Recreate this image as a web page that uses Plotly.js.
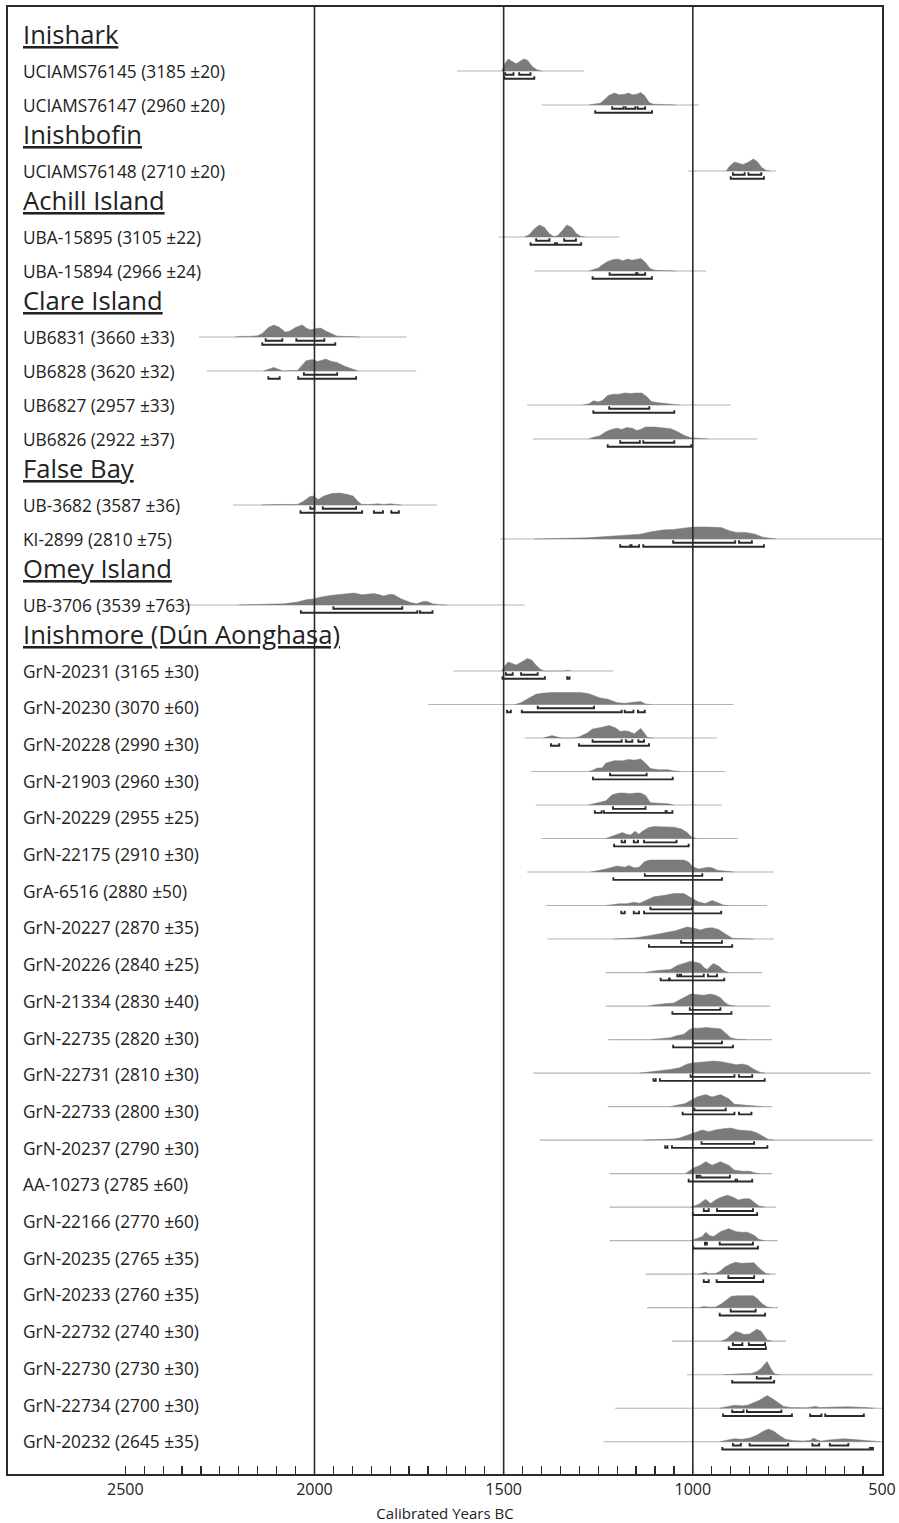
<!DOCTYPE html>
<html><head><meta charset="utf-8">
<script src="https://cdn.plot.ly/plotly-3.0.1.min.js"></script>
<style>html,body{margin:0;padding:0;background:#fff}#chart{width:899px;height:1523px}</style>
</head><body><div id="chart"></div>
<script>
// ---------------- DATA ----------------
const siteNames = ["Inishark", "Inishbofin", "Achill Island", "Clare Island", "False Bay", "Omey Island", "Inishmore (Dún Aonghasa)"];

const sampleLabels = [
  "UCIAMS76145 (3185 ±20)", "UCIAMS76147 (2960 ±20)",
  "UCIAMS76148 (2710 ±20)",
  "UBA-15895 (3105 ±22)", "UBA-15894 (2966 ±24)",
  "UB6831 (3660 ±33)", "UB6828 (3620 ±32)", "UB6827 (2957 ±33)", "UB6826 (2922 ±37)",
  "UB-3682 (3587 ±36)", "KI-2899 (2810 ±75)",
  "UB-3706 (3539 ±763)",
  "GrN-20231 (3165 ±30)", "GrN-20230 (3070 ±60)", "GrN-20228 (2990 ±30)", "GrN-21903 (2960 ±30)",
  "GrN-20229 (2955 ±25)", "GrN-22175 (2910 ±30)", "GrA-6516 (2880 ±50)", "GrN-20227 (2870 ±35)",
  "GrN-20226 (2840 ±25)", "GrN-21334 (2830 ±40)", "GrN-22735 (2820 ±30)", "GrN-22731 (2810 ±30)",
  "GrN-22733 (2800 ±30)", "GrN-20237 (2790 ±30)", "AA-10273 (2785 ±60)", "GrN-22166 (2770 ±60)",
  "GrN-20235 (2765 ±35)", "GrN-20233 (2760 ±35)", "GrN-22732 (2740 ±30)", "GrN-22730 (2730 ±30)",
  "GrN-22734 (2700 ±30)", "GrN-20232 (2645 ±35)"
];
const sampleSite = [0,0, 1, 2,2, 3,3,3,3, 4,4, 5,
  6,6,6,6,6,6,6,6,6,6,6,6,6,6,6,6,6,6,6,6,6,6];

// one entry per drawn distribution (top to bottom); site index of each
const distSite = [0,0, 1, 2,2, 3,3,3,3, 4,4, 5,
  6,6,6,6,6,6,6,6,6,6,6,6,6,6,6,6,6,6,6,6,6,6,6,6];

// span of the thin calibration line, years BC [from, to]
const distSpan = [
  [1623,1288],[1399,984],
  [1013,780],
  [1513,1194],[1419,965],
  [2305,1757],[2285,1731],[1438,900],[1423,829],
  [2215,1676],[1509,500],
  [2370,1445],
  [1633,1210],[1699,892],[1444,936],[1428,914],[1415,923],[1400,881],
  [1438,786],[1388,804],[1384,786],[1230,817],[1230,795],[1224,791],
  [1421,530],[1225,790],[1405,525],[1220,790],[1220,781],[1220,776],
  [1125,781],[1121,775],[1055,754],[1015,525],[1205,500],[1236,500]
];

// probability curves: [year BC, relative height]
const distDensity = [
  [[1505,0],[1497,6],[1488,10],[1478,8],[1467,6],[1457,8],[1447,10],[1437,9],[1425,4],[1412,1],[1400,0]],
  [[1275,0],[1260,1],[1245,1.5],[1235,4],[1222,8],[1207,10],[1195,8.5],[1180,9],[1170,10],[1160,8.5],[1148,9],[1138,10.5],[1128,8],[1115,2],[1105,0.7],[1070,0.3],[1045,0]],
  [[912,0],[903,4],[890,7.5],[878,6.5],[868,5.5],[855,7],[840,10],[830,8],[818,3],[806,0.5],[795,0]],
  [[1445,0],[1432,2],[1418,7],[1405,10],[1392,8],[1380,3],[1368,0.5],[1358,1],[1346,5],[1333,10],[1320,8],[1308,3],[1295,0.5],[1285,0]],
  [[1275,0],[1262,1.5],[1250,2.5],[1240,5],[1225,8],[1210,9.5],[1198,10],[1185,8.5],[1172,10],[1160,9],[1150,9.5],[1137,10.5],[1125,7],[1113,2],[1100,0.6],[1060,0.3],[1045,0]],
  [[2210,0],[2195,0.5],[2175,0.5],[2150,1],[2138,3],[2122,8],[2107,10],[2092,8],[2077,4],[2065,5],[2050,8],[2032,10],[2020,7],[2010,6],[1995,7],[1984,7.5],[1970,5],[1955,2.5],[1940,0.7],[1900,0.3],[1880,0]],
  [[2135,0],[2122,1.5],[2108,3],[2095,1.5],[2085,0],[2045,0.5],[2035,4],[2022,8.5],[2006,9.5],[1992,8],[1980,9],[1970,10],[1955,8],[1940,7],[1920,4],[1900,1.5],[1885,0]],
  [[1290,0],[1275,1],[1262,3.5],[1250,2.5],[1238,4],[1225,8],[1210,9],[1195,9],[1180,10],[1165,9.5],[1150,10],[1135,10],[1122,7],[1110,3],[1095,2],[1070,1.5],[1050,0.5],[1035,0]],
  [[1275,0],[1262,1.5],[1247,2.5],[1230,6],[1215,8],[1200,9],[1188,8],[1175,9.5],[1160,9],[1148,7],[1138,8],[1125,10],[1100,10],[1080,9.5],[1058,8.5],[1040,6],[1022,3],[1005,1],[990,0.5],[960,0]],
  [[2140,0],[2120,0.4],[2100,0.4],[2045,0.5],[2030,3],[2012,7],[2002,7.5],[1990,4.5],[1975,7.5],[1955,9.5],[1935,10],[1915,9],[1898,7.5],[1885,3],[1875,0.5],[1850,0.5],[1835,1],[1815,0.5],[1800,1],[1785,0.5],[1770,0]],
  [[1420,0],[1350,0.5],[1280,1],[1230,2],[1200,2.5],[1165,3],[1140,4],[1110,6],[1080,7.5],[1050,8],[1030,9],[1000,10],[960,10],[925,9.5],[905,7],[885,5.5],[860,5.5],[835,4],[815,1.5],[795,0.3],[780,0]],
  [[2200,0],[2135,0.5],[2080,1],[2045,2.5],[2020,4.5],[2003,5],[1985,6.5],[1958,8],[1930,9],[1896,10],[1874,8.5],[1858,9],[1843,9.5],[1828,8.5],[1817,7.5],[1800,9],[1790,8.5],[1770,5],[1746,2],[1730,1],[1712,3],[1702,3],[1688,1],[1670,0.3],[1650,0]],
  [[1505,0],[1498,4],[1488,7.5],[1477,6],[1467,5],[1455,7],[1437,10.5],[1425,9],[1415,5],[1403,1.5],[1393,0],[1340,0],[1331,0.6],[1322,0]],
  [[1470,0],[1454,1.5],[1435,5],[1415,8.5],[1395,9.5],[1370,10],[1330,10],[1296,10],[1275,9],[1261,7.5],[1245,5.5],[1226,4.5],[1210,2.5],[1199,1.5],[1180,1],[1160,1.5],[1138,2.5],[1125,0.5],[1110,0]],
  [[1395,0],[1384,1],[1372,2],[1360,1],[1349,0],[1315,0],[1300,1],[1280,4],[1265,7.5],[1240,9],[1221,10.5],[1205,8.5],[1191,5.5],[1180,6],[1169,5.5],[1155,3.5],[1145,6],[1138,8],[1130,5],[1120,0.5],[1105,0]],
  [[1275,0],[1265,1],[1252,3],[1240,3],[1230,7],[1208,9],[1185,9],[1170,10],[1155,9.5],[1138,10.5],[1125,7],[1112,2.5],[1090,1.5],[1065,1.5],[1050,0.5],[1035,0]],
  [[1275,0],[1263,1],[1245,2.5],[1230,3.5],[1213,8.5],[1195,10],[1182,10],[1165,9.5],[1150,10],[1138,10],[1125,8],[1120,6],[1112,2],[1090,1.5],[1065,1],[1050,0]],
  [[1230,0],[1217,1.5],[1200,3.5],[1186,5],[1175,3.5],[1165,3],[1152,6],[1143,3.5],[1133,6],[1118,9],[1103,10],[1075,10],[1050,9.5],[1030,8],[1015,5],[1003,1],[990,0]],
  [[1270,0],[1252,1],[1230,2.5],[1213,4],[1200,5],[1180,4],[1169,5.5],[1155,3.5],[1142,4],[1128,8.5],[1115,10],[1080,10],[1050,10],[1024,10],[1012,8.5],[1000,4.5],[985,2.5],[971,3],[960,4],[949,3.5],[935,1.5],[923,1],[905,0.3],[890,0]],
  [[1230,0],[1213,1],[1195,1.5],[1175,1.5],[1156,2.7],[1140,2],[1120,5],[1103,7.3],[1075,8.5],[1050,10],[1024,10],[1005,6.5],[985,3],[967,1.7],[949,4.3],[935,2.5],[920,0.5],[905,0]],
  [[1210,0],[1191,0.5],[1150,1],[1112,3],[1085,4.5],[1068,5.5],[1046,7],[1030,8.5],[1015,10],[995,9],[980,7.5],[965,9],[949,9.5],[932,8],[918,5],[905,2],[896,0.7],[860,0.3],[839,0]],
  [[1125,0],[1112,1],[1085,2],[1059,2.5],[1041,6],[1020,8],[1006,9.5],[990,8.5],[980,7.5],[970,4],[962,2.5],[952,6],[945,7.5],[930,5],[918,1.5],[905,0]],
  [[1115,0],[1103,1],[1075,2],[1050,2.5],[1036,5],[1024,7],[1006,10],[985,9.5],[971,9],[954,10],[940,9],[927,7],[915,3],[905,1],[890,0]],
  [[1110,0],[1085,0.7],[1060,1.5],[1045,3],[1024,4.5],[1010,8],[1000,9.5],[985,9.5],[965,10],[945,9.5],[927,9],[912,5],[900,1.5],[885,0.5],[860,0]],
  [[1140,0],[1110,1],[1085,2],[1060,3],[1035,4.5],[1015,7.5],[1000,8.5],[985,9],[965,9.5],[945,10],[925,9.5],[905,8],[885,7],[870,7.5],[855,6.5],[840,3.5],[825,1],[810,0]],
  [[1060,0],[1040,1],[1020,2.5],[1006,5],[989,8],[966,10],[949,8],[927,10],[905,6.5],[890,2],[870,1.5],[850,1.5],[835,0.5],[815,0]],
  [[1130,0],[1090,0.5],[1050,1],[1033,2],[1015,4],[997,6],[975,8.5],[958,7],[940,8.5],[920,9.5],[900,10],[880,8.5],[860,8],[845,7.5],[830,6],[815,3],[800,0.5],[785,0]],
  [[1020,0],[1011,2],[997,5],[980,7],[966,10],[949,7],[927,10],[905,7],[891,3],[870,2],[850,2],[835,0.5],[820,0]],
  [[1005,0],[995,1.5],[984,2.5],[966,6.5],[953,3],[940,6],[927,8],[909,10],[895,8.5],[880,6],[865,7],[850,7],[838,4],[825,1],[810,0]],
  [[1005,0],[990,1.5],[975,3.5],[966,7],[955,4],[945,3.5],[927,7.5],[905,10],[885,7.5],[870,7],[856,7],[838,4.5],[825,1],[810,0]],
  [[985,0],[972,1],[966,1.5],[958,0.3],[940,0.5],[928,2.5],[915,6],[900,8.5],[887,10],[872,9],[855,9.5],[838,9.5],[828,6],[818,3],[808,0.7],[795,0]],
  [[985,0],[970,1],[955,0.3],[940,0.5],[925,3],[913,6],[898,9.5],[880,10],[860,10],[840,10],[828,7],[816,3],[803,0.5],[790,0]],
  [[925,0],[912,1.5],[900,5],[887,8],[875,7],[865,5.5],[850,6],[840,8],[831,10],[820,8.5],[812,5],[803,0.8],[790,0]],
  [[920,0],[900,0.5],[870,0.7],[845,1],[832,2.5],[820,5],[810,9],[804,11],[797,7],[790,3],[783,0.5],[770,0]],
  [[930,0],[910,1],[890,2.5],[870,2],[855,2.5],[840,4.5],[825,6.5],[812,9],[803,10.5],[790,8],[775,4.5],[760,1.5],[740,0.5],[700,0.3],[685,1],[675,1.5],[665,0.5],[650,0.5],[620,1],[590,1.2],[560,1],[540,0.5],[520,0]],
  [[930,0],[910,1],[890,2.5],[870,2],[850,3],[830,5.5],[815,8.5],[800,10.5],[785,8.5],[770,5],[755,2],[735,1],[710,0.5],[690,1],[680,3],[672,1.5],[660,0.5],[640,1.5],[620,2],[600,2.5],[580,2],[560,1.5],[540,1],[520,0.5],[505,0]]
];

// 68.2% ranges
const distRange68 = [
  [[1496,1474],[1459,1429]], [[1213,1183],[1178,1152],[1146,1126]],
  [[894,863],[853,819]],
  [[1414,1379],[1340,1309]], [[1220,1150],[1146,1126]],
  [[2129,2085],[2048,1974]], [[2028,1940]], [[1221,1115]], [[1192,1140],[1131,1049]],
  [[2011,2000],[1978,1890]], [[1052,888],[878,844]],
  [[1950,1768]],
  [[1494,1476],[1454,1410]], [[1410,1261]], [[1265,1188],[1177,1160],[1144,1129]], [[1219,1122]],
  [[1211,1125]], [[1188,1179],[1156,1145],[1129,1043]], [[1127,975]], [[1112,1002]],
  [[1031,923]], [[1041,1035],[1031,971],[960,936]], [[1008,927]], [[1000,923]],
  [[1006,890],[878,843]], [[996,913]], [[977,838]], [[990,985],[980,902]],
  [[971,958],[936,841]], [[968,963],[929,841]], [[906,838]], [[900,834]],
  [[894,869],[852,809]], [[831,794]], [[896,866],[857,766]], [[894,873],[850,748],[684,666],[638,589]]
];
// 95.4% ranges
const distRange95 = [
  [[1498,1419]], [[1258,1108]],
  [[900,812]],
  [[1429,1364],[1359,1295]], [[1265,1108]],
  [[2138,1945]], [[2122,2092],[2043,1890]], [[1263,1049]], [[1225,1004]],
  [[2037,1874],[1843,1819],[1797,1777]], [[1192,1165],[1162,1142],[1131,812]],
  [[2036,1728],[1721,1688]],
  [[1503,1391],[1332,1326]], [[1491,1481],[1452,1188],[1180,1157],[1145,1127]], [[1375,1353],[1301,1116]], [[1264,1053]],
  [[1259,1241],[1235,1072],[1069,1054]], [[1208,1011]], [[1210,923]], [[1189,1180],[1156,1142],[1129,925]],
  [[1116,896]], [[1085,1063],[1061,917]], [[1054,898]], [[1052,894]],
  [[1104,1098],[1087,810]], [[1027,890],[878,845]], [[1073,1067],[1055,803]], [[1011,887],[883,843]],
  [[1000,830]], [[999,828]], [[971,958],[937,814]], [[929,809]],
  [[905,807]], [[896,785]], [[920,738],[690,660],[650,548]], [[922,532],[528,524]]
];

// axis
const axisLabelYears = [2500, 2000, 1500, 1000, 500];
const referenceYears = [2000, 1500, 1000];
const axisTitle = "Calibrated Years BC";

// ---------------- LAYOUT HELPERS ----------------
const FONT = '"Open Sans", "Noto Sans", sans-serif';
const TXT = '#222222';
const HS = 1.2;      // px per density unit
const OFF68 = 3.8, OFF95 = 7.8, TK = 2.6;

const headY = [], labY = [], dY = [];
let y = 34;
siteNames.forEach((s, si) => {
  if (si > 0) y += 29;
  headY.push(y);
  const labs = [], dists = [];
  sampleSite.forEach((v, i) => { if (v === si) labs.push(i); });
  distSite.forEach((v, i) => { if (v === si) dists.push(i); });
  const step = labs.length > 10 ? 36.7 : 34;
  y += 37;
  const y0 = y;
  labs.forEach((li, k) => { labY[li] = y0 + k * step; });
  const y1 = y0 + (labs.length - 1) * step;
  dists.forEach((di, k) => { dY[di] = dists.length > 1 ? y0 + k * (y1 - y0) / (dists.length - 1) : y0; });
  y = y1;
});

const lx = [], ly = [], fx = [], fy = [], bx = [], by = [];
distSpan.forEach((sp, i) => {
  const b = dY[i];
  lx.push(sp[0], sp[1], null); ly.push(b, b, null);
  distDensity[i].forEach(p => { fx.push(p[0]); fy.push(b - p[1] * HS); });
  fx.push(null); fy.push(null);
  const addR = (r, off) => r.forEach(seg => {
    const yy = b + off;
    bx.push(seg[0], seg[0], seg[1], seg[1], null);
    by.push(yy - TK, yy, yy, yy - TK, null);
  });
  addR(distRange68[i], OFF68);
  addR(distRange95[i], OFF95);
});

const traces = [
  {x: lx, y: ly, mode: 'lines', line: {color: '#b4b4b4', width: 1.1}, hoverinfo: 'skip', showlegend: false},
  {x: fx, y: fy, mode: 'lines', fill: 'toself', fillcolor: '#7b7b7b', line: {color: '#7b7b7b', width: 0.5}, hoverinfo: 'skip', showlegend: false},
  {x: bx, y: by, mode: 'lines', line: {color: '#2a2a2a', width: 1.9}, hoverinfo: 'skip', showlegend: false}
];

const L = 8, R = 17, T = 7, B = 49, W = 899, H = 1523;
const LABEL_X = (21 - L) / (W - L - R);

const annotations = [];
siteNames.forEach((s, si) => {
  annotations.push({xref: 'paper', yref: 'y', x: LABEL_X, y: headY[si], xanchor: 'left', yanchor: 'middle',
    text: '<u>' + s + '</u>', showarrow: false, font: {family: FONT, size: 25.6, color: TXT}});
});
sampleLabels.forEach((s, i) => {
  annotations.push({xref: 'paper', yref: 'y', x: LABEL_X, y: labY[i], xanchor: 'left', yanchor: 'middle',
    text: s, showarrow: false, font: {family: FONT, size: 17.3, color: TXT}});
});

const tickvals = [], ticktext = [];
for (let v = axisLabelYears[0]; v >= axisLabelYears[axisLabelYears.length - 1]; v -= 50) {
  tickvals.push(v);
  ticktext.push(axisLabelYears.includes(v) ? String(v) : '');
}

const shapes = referenceYears.map(v => ({type: 'line', xref: 'x', yref: 'paper', x0: v, x1: v, y0: 0, y1: 1,
  line: {color: '#2a2a2a', width: 1.6}, layer: 'above'}));

const layout = {
  width: W, height: H,
  margin: {l: L, r: R, t: T, b: B},
  paper_bgcolor: '#fff', plot_bgcolor: '#fff',
  showlegend: false,
  hovermode: false,
  xaxis: {
    range: [2810, 500], tickmode: 'array', tickvals: tickvals, ticktext: ticktext,
    ticks: 'inside', ticklen: 8, tickwidth: 1.2, tickcolor: '#2a2a2a',
    showline: true, mirror: true, linecolor: '#2a2a2a', linewidth: 1.6,
    showgrid: false, zeroline: false,
    tickfont: {family: FONT, size: 16, color: TXT},
    title: {text: axisTitle, font: {family: FONT, size: 15, color: TXT}, standoff: 12}
  },
  yaxis: {
    range: [H - B, T], showline: true, mirror: true, linecolor: '#2a2a2a', linewidth: 1.6,
    showticklabels: false, ticks: '', showgrid: false, zeroline: false
  },
  shapes: shapes,
  annotations: annotations
};

Plotly.newPlot('chart', traces, layout, {staticPlot: true, displayModeBar: false});
</script>
</body></html>
